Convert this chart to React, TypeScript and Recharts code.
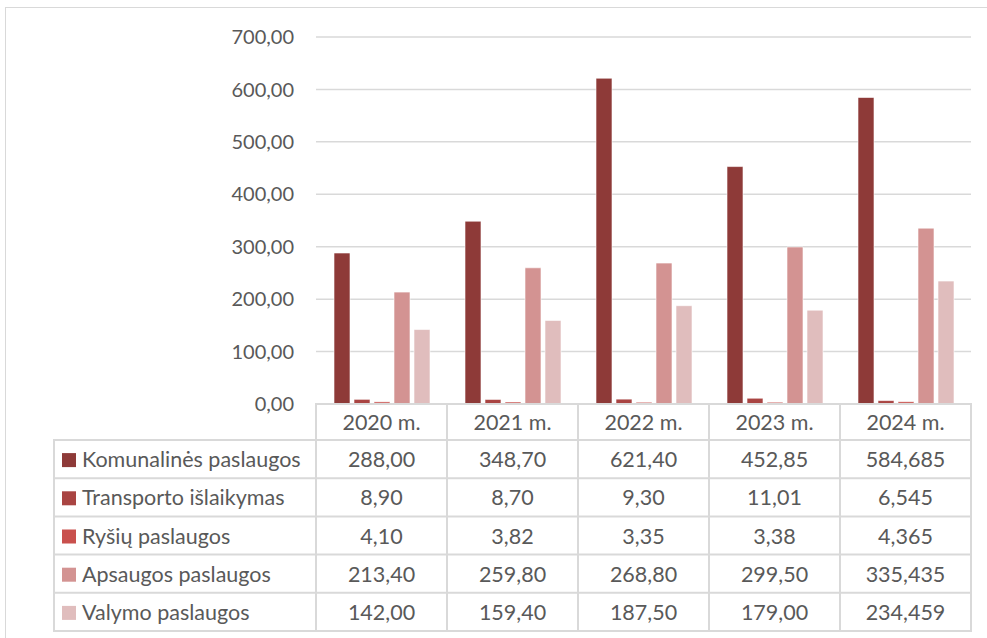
import React from "react";
import { BarChart, Bar, XAxis, YAxis, CartesianGrid } from "recharts";

const years = ["2020 m.", "2021 m.", "2022 m.", "2023 m.", "2024 m."];
const decimals = [2, 2, 2, 2, 3];

const seriesNames = [
  "Komunalinės paslaugos",
  "Transporto išlaikymas",
  "Ryšių paslaugos",
  "Apsaugos paslaugos",
  "Valymo paslaugos",
];

const komunalines = [288.0, 348.7, 621.4, 452.85, 584.685];
const transporto = [8.9, 8.7, 9.3, 11.01, 6.545];
const rysiu = [4.1, 3.82, 3.35, 3.38, 4.365];
const apsaugos = [213.4, 259.8, 268.8, 299.5, 335.435];
const valymo = [142.0, 159.4, 187.5, 179.0, 234.459];

const yTicks = [0, 100, 200, 300, 400, 500, 600, 700];

const COLORS = ["#8e3a38", "#a94442", "#c9504d", "#d39392", "#e0bdbd"];

const allSeries = [komunalines, transporto, rysiu, apsaugos, valymo];
const keys = ["s0", "s1", "s2", "s3", "s4"];

const data = years.map((year, i) => {
  const row: Record<string, string | number> = { year };
  allSeries.forEach((s, k) => {
    row[keys[k]] = s[i];
  });
  return row;
});

const FONT = "Lato, 'Open Sans', sans-serif";
const TEXT = "#595959";
const LINE = "#d9d9d9";

const fmt = (v: number, d: number) => v.toFixed(d).replace(".", ",");

const PLOT_LEFT = 316;
const PLOT_RIGHT = 971;
const COL_W = (PLOT_RIGHT - PLOT_LEFT) / years.length;
const TABLE_TOP = 404;
const HEADER_H = 36;
const ROW_H = 38.2;
const LEGEND_LEFT = 54;
const FS = 21.5;

export default function App() {
  return (
    <div
      style={{
        position: "absolute",
        left: 0,
        top: 0,
        width: 987,
        height: 638,
        background: "#fff",
        overflow: "hidden",
        fontFamily: FONT,
      }}
    >
      <div
        style={{
          position: "absolute",
          left: 5,
          top: 7,
          width: 1000,
          height: 700,
          border: `1px solid ${LINE}`,
        }}
      />
      <div style={{ position: "absolute", left: 0, top: 0 }}>
        <BarChart
          width={987}
          height={TABLE_TOP + 30}
          data={data}
          margin={{ top: 37, right: 987 - PLOT_RIGHT, bottom: 30, left: 0 }}
          barSize={16}
          barGap={4}
        >
          <CartesianGrid vertical={false} stroke={LINE} strokeWidth={1.5} />
          <XAxis dataKey="year" hide />
          <YAxis
            width={PLOT_LEFT}
            domain={[0, 700]}
            ticks={yTicks}
            axisLine={false}
            tickLine={false}
            tickSize={0}
            tickMargin={22}
            tickFormatter={(v: number) => fmt(v, 2)}
            tick={{ fill: TEXT, fontSize: 20, fontFamily: FONT }}
          />
          {keys.map((k, i) => (
            <Bar
              key={k}
              dataKey={k}
              name={seriesNames[i]}
              fill={COLORS[i]}
              stroke="#ffffff"
              strokeWidth={0.6}
              isAnimationActive={false}
            />
          ))}
        </BarChart>
      </div>

      {/* data table */}
      <svg
        width={987}
        height={638}
        style={{ position: "absolute", left: 0, top: 0 }}
      >
        <rect
          x={PLOT_LEFT}
          y={TABLE_TOP}
          width={PLOT_RIGHT - PLOT_LEFT}
          height={HEADER_H}
          fill="#fff"
          stroke={LINE}
          strokeWidth={2}
        />
        <rect
          x={LEGEND_LEFT}
          y={TABLE_TOP + HEADER_H}
          width={PLOT_RIGHT - LEGEND_LEFT}
          height={ROW_H * seriesNames.length}
          fill="#fff"
          stroke={LINE}
          strokeWidth={2}
        />
        {years.map((y, i) => (
          <g key={y}>
            <line
              x1={PLOT_LEFT + COL_W * i}
              x2={PLOT_LEFT + COL_W * i}
              y1={TABLE_TOP}
              y2={TABLE_TOP + HEADER_H + ROW_H * seriesNames.length}
              stroke={LINE}
              strokeWidth={2}
            />
            <text
              x={PLOT_LEFT + COL_W * (i + 0.5)}
              y={TABLE_TOP + HEADER_H / 2 + 7.5}
              textAnchor="middle"
              fill={TEXT}
              fontSize={FS}
              fontFamily={FONT}
            >
              {y}
            </text>
          </g>
        ))}
        {seriesNames.map((name, r) => {
          const top = TABLE_TOP + HEADER_H + ROW_H * r;
          return (
            <g key={name}>
              {r > 0 && (
                <line
                  x1={LEGEND_LEFT}
                  x2={PLOT_RIGHT}
                  y1={top}
                  y2={top}
                  stroke={LINE}
                  strokeWidth={2}
                />
              )}
              <rect
                x={LEGEND_LEFT + 8}
                y={top + ROW_H / 2 - 6}
                width={14}
                height={14}
                fill={COLORS[r]}
              />
              <text
                x={LEGEND_LEFT + 28}
                y={top + ROW_H / 2 + 8}
                fill={TEXT}
                fontSize={FS}
                fontFamily={FONT}
              >
                {name}
              </text>
              {allSeries[r].map((v, c) => (
                <text
                  key={c}
                  x={PLOT_LEFT + COL_W * (c + 0.5)}
                  y={top + ROW_H / 2 + 8}
                  textAnchor="middle"
                  fill={TEXT}
                  fontSize={FS}
                  fontFamily={FONT}
                >
                  {fmt(v, decimals[c])}
                </text>
              ))}
            </g>
          );
        })}
      </svg>
    </div>
  );
}
